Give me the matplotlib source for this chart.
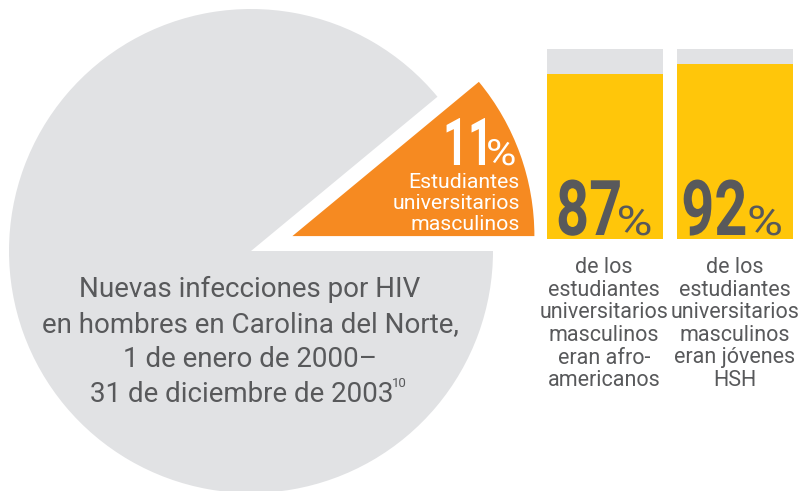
import matplotlib
matplotlib.use("Agg")
import matplotlib.pyplot as plt
from matplotlib.patheffects import AbstractPathEffect
from matplotlib.transforms import Affine2D

# ---------------- data ----------------
pie_labels = ["Estudiantes universitarios masculinos", "Otros hombres"]
pie_values = [11, 89]
bar_categories = ["afroamericanos", "jóvenes HSH"]
bar_values = [87, 92]
bar_totals = [100, 100]
bar_captions = [
    ["de los", "estudiantes", "universitarios", "masculinos", "eran afro-", "americanos"],
    ["de los", "estudiantes", "universitarios", "masculinos", "eran jóvenes", "HSH"],
]
pie_caption = ["Estudiantes", "universitarios", "masculinos"]
title_lines = ["Nuevas infecciones por HIV",
               "en hombres en Carolina del Norte,",
               "1 de enero de 2000–",
               "31 de diciembre de 2003"]
footnote = "10"

ORANGE = "#F68A21"
LIGHT = "#E1E2E4"
YELLOW = "#FFC60A"
DARK = "#58595B"
FONT = "Roboto"

W, H = 802, 491


class Squeeze(AbstractPathEffect):
    """Horizontally scale text glyphs around the text's left or right end."""
    def __init__(self, sx, anchor="left"):
        super().__init__()
        self.sx = sx
        self.anchor = anchor

    def draw_path(self, renderer, gc, tpath, affine, rgbFace=None):
        if self.anchor == "right":
            tx = affine.transform_path(tpath).get_extents().x1
        else:
            tx = affine.get_matrix()[0, 2]
        aff = affine + Affine2D().translate(-tx, 0).scale(self.sx, 1).translate(tx, 0)
        renderer.draw_path(gc, tpath, aff, rgbFace)


fig = plt.figure(figsize=(W / 100, H / 100), dpi=100)

# bars (drawn first, so the text layer sits above them)
bx = fig.add_axes([547 / W, (H - 239) / H, (793 - 547) / W, 190 / H])
bw = 116 / 130
pos = list(range(len(bar_values)))
bx.bar(pos, bar_totals, width=bw, color=LIGHT, linewidth=0)
bx.bar(pos, bar_values, width=bw, color=YELLOW, linewidth=0)
bx.set_xlim(-bw / 2, len(bar_values) - 1 + bw / 2)
bx.set_ylim(0, 100)
bx.axis("off")

ax = fig.add_axes([0, 0, 1, 1])
# pie (pixel coordinates, y up)
ax.pie(pie_values, colors=[ORANGE, LIGHT], explode=[44, 0], startangle=0,
       counterclock=True, center=(251, H - 251), radius=242, frame=True,
       wedgeprops=dict(linewidth=0))
ax.set_xlim(0, W)
ax.set_ylim(0, H)
ax.set_aspect("auto")
ax.axis("off")


def Y(y):
    return H - y


# pie texts
ax.text(443, Y(165), f"{pie_values[0]}", color="white", fontsize=47.5,
        fontweight="bold", family=FONT, ha="left", va="baseline",
        path_effects=[Squeeze(0.66)])
ax.text(486, Y(165), "%", color="white", fontsize=26, family=FONT,
        ha="left", va="baseline", path_effects=[Squeeze(1.15)])
for line, yb in zip(pie_caption, [188, 209, 230]):
    ax.text(520, Y(yb), line, color="white", fontsize=15.3, family=FONT,
            ha="right", va="baseline")

for i, (line, yb) in enumerate(zip(title_lines, [297, 332, 367, 402])):
    xc = 250 if i < 3 else 242
    ax.text(xc, Y(yb), line, color=DARK, fontsize=20, family=FONT,
            ha="center", va="baseline")
ax.text(392, Y(387), footnote, color=DARK, fontsize=9.5, family=FONT,
        ha="left", va="baseline")

num_right = [623, 748]
pct_x = [616.5, 747]
cap_x = [604, 735]
for i, v in enumerate(bar_values):
    ax.text(num_right[i], Y(235), f"{v}", color=DARK, fontsize=55.4,
            fontweight="bold", family=FONT, ha="right", va="baseline",
            path_effects=[Squeeze(0.75, anchor="right")])
    ax.text(pct_x[i], Y(235), "%", color=DARK, fontsize=29.5, family=FONT,
            ha="left", va="baseline", path_effects=[Squeeze(1.2)])
    for line, yb in zip(bar_captions[i], [273, 296, 318.5, 341, 363.5, 386]):
        ax.text(cap_x[i], Y(yb), line, color=DARK, fontsize=15.5, family=FONT,
                ha="center", va="baseline")

fig.savefig("out.png", dpi=100)
